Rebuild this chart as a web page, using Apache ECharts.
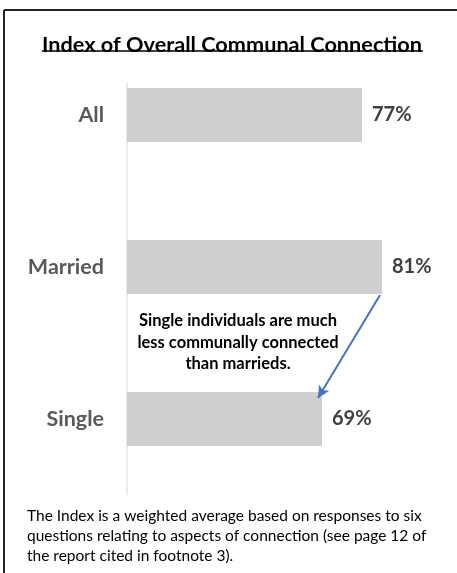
<!DOCTYPE html>
<html>
<head>
<meta charset="utf-8">
<script src="https://cdn.jsdelivr.net/npm/echarts@6/dist/echarts.min.js"></script>
<style>
  html, body { margin: 0; padding: 0; background: #fff; }
  #chart { width: 457px; height: 573px; }
</style>
</head>
<body>
<div id="chart"></div>
<script>
// categories, top to bottom
const categories = ['All', 'Married', 'Single']
const values = [77, 81, 69]
const titleText = 'Index of Overall Communal Connection'
const noteText = 'Single individuals are much\nless communally connected\nthan marrieds.'
const footText = 'The Index is a weighted average based on responses to six\nquestions relating to aspects of connection (see page 12 of\nthe report cited in footnote 3).'

let chart = echarts.init(document.getElementById('chart'))

let option = {
  animation: false,
  backgroundColor: '#fff',
  title: {
    text: titleText,
    left: 37,
    top: 29,
    textStyle: {
      fontFamily: 'Lato',
      fontWeight: 'bold',
      fontSize: 21.7,
      color: '#000'
    }
  },
  grid: {
    left: 127,
    right: 30,
    top: 39,
    bottom: 78
  },
  xAxis: {
    type: 'value',
    min: 30,
    max: 90,
    show: false
  },
  yAxis: {
    type: 'category',
    inverse: true,
    data: categories,
    axisLine: {show: false},
    axisTick: {show: false},
    axisLabel: {
      margin: 23,
      fontFamily: 'Lato',
      fontWeight: 'bold',
      fontSize: 21.5,
      color: '#595959'
    }
  },
  series: [
    {
      type: 'bar',
      data: values,
      barWidth: 54,
      itemStyle: {color: '#d0cfcf'},
      label: {
        show: true,
        position: 'right',
        distance: 10,
        formatter: '{c}%',
        fontFamily: 'Lato',
        fontWeight: 'bold',
        fontSize: 20,
        color: '#404040'
      }
    }
  ]
}
chart.setOption(option)

// pixel positions of the married / single bar ends, through the axes
let pm = chart.convertToPixel({seriesIndex: 0}, [values[1], categories[1]])
let ps = chart.convertToPixel({seriesIndex: 0}, [values[2], categories[2]])
let pa = chart.convertToPixel({seriesIndex: 0}, [30, categories[0]])
let pe = chart.convertToPixel({seriesIndex: 0}, [30, categories[2]])

chart.setOption({
  series: [{
    markLine: {
      silent: true,
      symbol: ['none', 'arrow'],
      symbolSize: [9, 12],
      label: {show: false},
      lineStyle: {color: '#4472c4', width: 2, type: 'solid'},
      data: [[
        {x: pm[0] - 2, y: pm[1] + 28},
        {x: ps[0] - 4, y: ps[1] - 21}
      ]]
    }
  }],
  graphic: [
    // frame (top and left edges)
    {type: 'line', shape: {x1: 4, y1: 10, x2: 457, y2: 10}, style: {stroke: '#222', lineWidth: 2}},
    {type: 'line', shape: {x1: 4, y1: 10, x2: 4, y2: 573}, style: {stroke: '#222', lineWidth: 2}},
    // title underline
    {type: 'line', shape: {x1: 42, y1: 51, x2: 423, y2: 51}, style: {stroke: '#000', lineWidth: 1.5}},
    // vertical axis line
    {type: 'line', shape: {x1: pa[0], y1: pa[1] - 32, x2: pe[0], y2: pe[1] + 76}, style: {stroke: '#d9d9d9', lineWidth: 1}},
    // annotation
    {
      type: 'text', x: 238, y: 310,
      style: {
        text: noteText, fontFamily: 'Lato', fontWeight: 'bold', fontSize: 16.5,
        lineHeight: 21.5, fill: '#000', align: 'center', verticalAlign: 'top'
      }
    },
    // footnote
    {
      type: 'text', left: 27, top: 506,
      style: {
        text: footText, fontFamily: 'Lato', fontSize: 15.5,
        lineHeight: 20, fill: '#000'
      }
    }
  ]
})
</script>
</body>
</html>
